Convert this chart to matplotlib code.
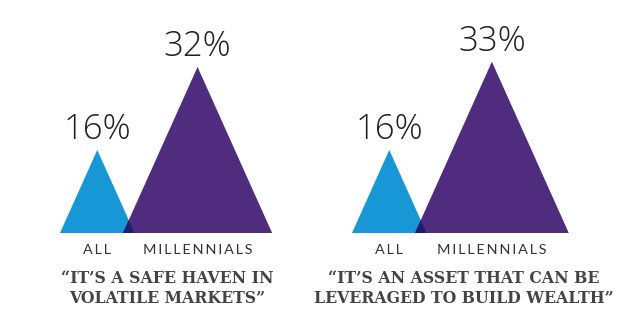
import matplotlib
matplotlib.use("Agg")
import matplotlib.pyplot as plt
from matplotlib.patches import Polygon

# ---- data ----
panels = ["safe_haven", "asset"]
categories = ["ALL", "MILLENNIALS"]
values_safe = [16, 32]
values_asset = [16, 33]
captions = ["\u201cIT\u2019S A SAFE HAVEN IN\nVOLATILE MARKETS\u201d",
            "\u201cIT\u2019S AN ASSET THAT CAN BE\nLEVERAGED TO BUILD WEALTH\u201d"]

# ---- style / layout ----
W, H = 640, 332
colors = ["#1797d5", "#4f2c7e"]
overlap_color = "#1d1f6e"
baseline = 233
h_per = 5.19      # px height per percent
w_per = 2.33      # px half-width per percent
panel_left = [60, 352]
offset = 63       # left edge of second triangle relative to first
caption_x = [167, 464]


def spaced(s):
    return "\u2009".join(s)


fig = plt.figure(figsize=(W / 100, H / 100), dpi=100)
ax = fig.add_axes([0, 0, 1, 1])
ax.set_xlim(0, W)
ax.set_ylim(H, 0)
ax.axis("off")

for p, vals in enumerate([values_safe, values_asset]):
    tris = []
    for i, v in enumerate(vals):
        hw = v * w_per
        left = panel_left[p] + i * offset
        apex_x = left + hw
        apex_y = baseline - v * h_per
        tri = [(left, baseline), (apex_x, apex_y), (left + 2 * hw, baseline)]
        tris.append(tri)
        ax.add_patch(Polygon(tri, closed=True, facecolor=colors[i], edgecolor="none", zorder=2))
        ax.text(apex_x, apex_y - 11, f"{v}%", ha="center", va="baseline",
                fontsize=25, family="Open Sans", fontweight="light", color="#231f20", zorder=3)
        ax.text(apex_x, 250, spaced(categories[i]), ha="center", va="center",
                fontsize=10.4, family=["Lato", "DejaVu Sans"], color="#333333", zorder=3)
    # overlap region: blue right edge vs purple left edge
    (bl, _), (bax, bay), (br, _) = tris[0]
    (pl, _), (pax, pay), (pr, _) = tris[1]
    m1 = (baseline - bay) / (br - bax)
    m2 = (pay - baseline) / (pax - pl)
    xi = (baseline - m2 * pl - bay + m1 * bax) / (m1 - m2)
    yi = bay + m1 * (xi - bax)
    ax.add_patch(Polygon([(pl, baseline), (xi, yi), (br, baseline)], closed=True,
                         facecolor=overlap_color, edgecolor="none", zorder=2.5))
    ax.text(caption_x[p], 288.5, captions[p], ha="center", va="center",
            fontsize=11.3, family="DejaVu Serif", fontweight="bold", color="#444444",
            linespacing=1.3, zorder=3)

fig.savefig("out.png", dpi=100, facecolor="white")
